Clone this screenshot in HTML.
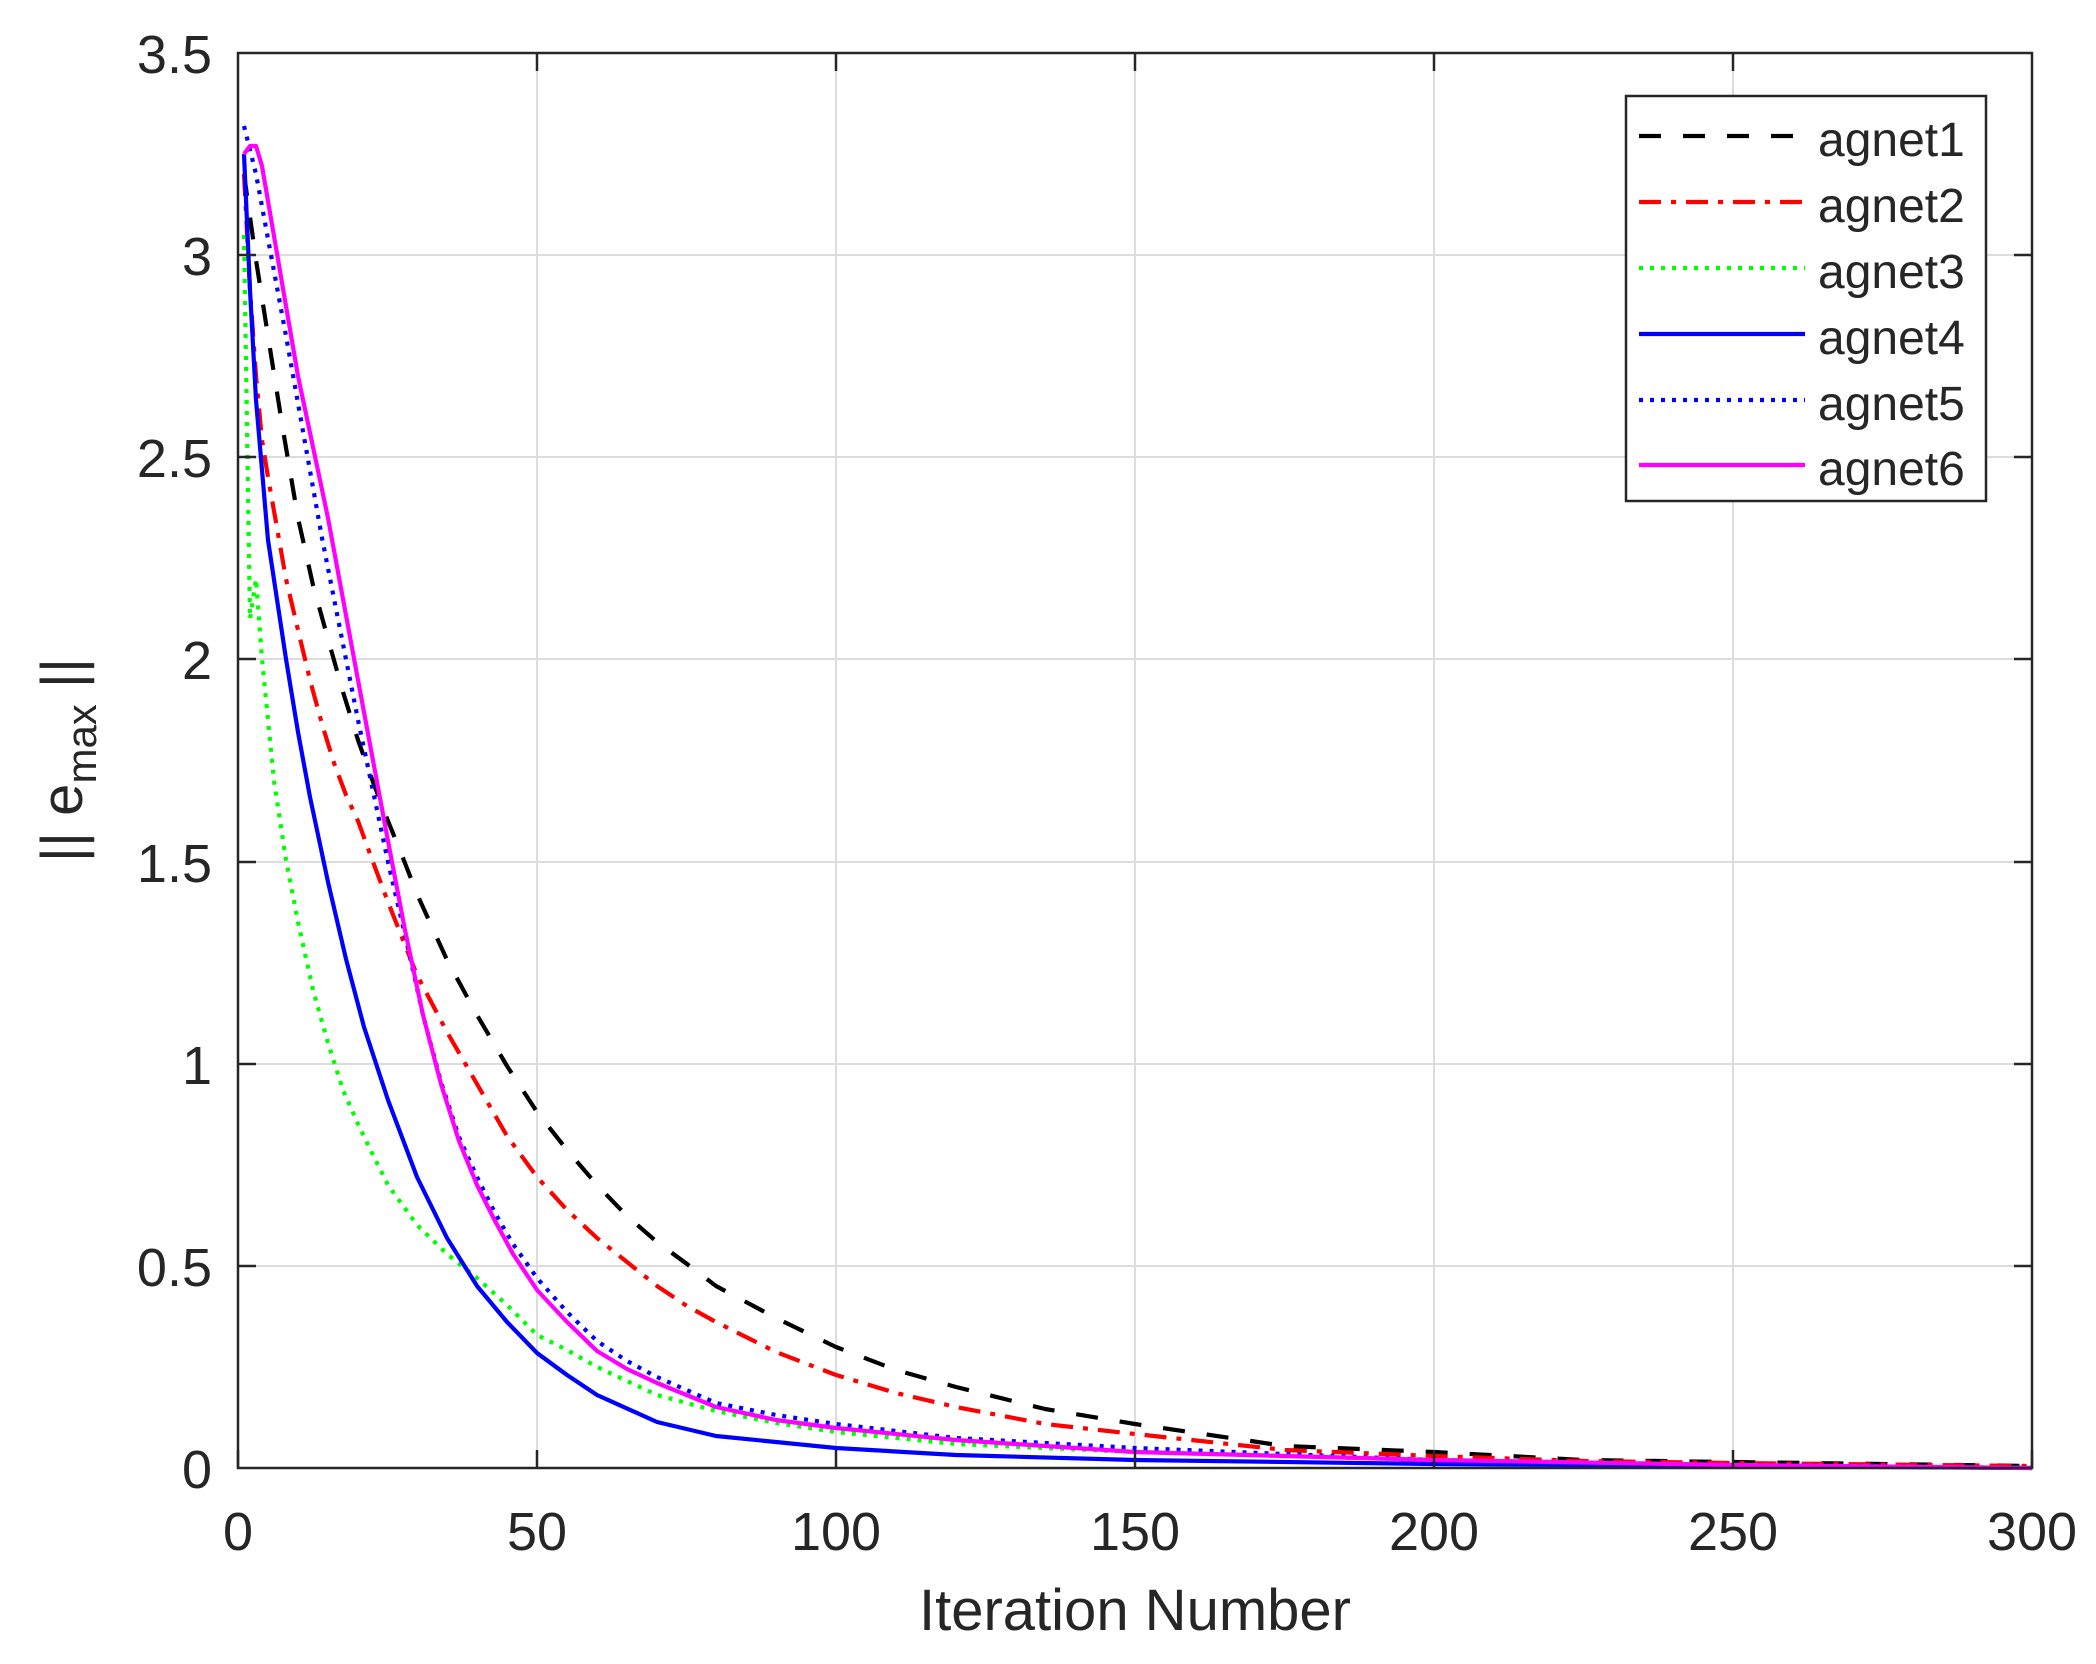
<!DOCTYPE html>
<html><head><meta charset="utf-8"><style>
html,body{margin:0;padding:0;background:#fff}
svg{display:block}
text{font-family:"Liberation Sans",Arial,sans-serif;fill:#262626}
</style></head><body>
<svg width="2096" height="1664" xmlns="http://www.w3.org/2000/svg">
<rect width="2096" height="1664" fill="#fff"/>
<g stroke="#dcdcdc" stroke-width="2">
<line x1="537" y1="53" x2="537" y2="1468"/><line x1="836" y1="53" x2="836" y2="1468"/><line x1="1135" y1="53" x2="1135" y2="1468"/><line x1="1434" y1="53" x2="1434" y2="1468"/><line x1="1733" y1="53" x2="1733" y2="1468"/>
<line x1="238" y1="1266" x2="2032" y2="1266"/><line x1="238" y1="1064" x2="2032" y2="1064"/><line x1="238" y1="862" x2="2032" y2="862"/><line x1="238" y1="659" x2="2032" y2="659"/><line x1="238" y1="457" x2="2032" y2="457"/><line x1="238" y1="255" x2="2032" y2="255"/>
</g>
<g fill="none" stroke-width="4.2" stroke-linejoin="round">
<polyline stroke="#000" stroke-dasharray="22,22" points="244,174 256,260 268,336 283,430 298,518 313,585 328,639 343,692 358,740 373,782 388,821 403,858 417,894 447,960 477,1015 507,1066 537,1112 567,1150 597,1185 627,1216 657,1242 687,1264 716,1286 776,1318 836,1347 896,1370 956,1387 1045,1409 1135,1424 1285,1446 1434,1452 1583,1460 1733,1462 2032,1466"/>
<polyline stroke="#f00" stroke-dasharray="22,10,5,10" points="244,174 250,290 256,376 262,440 268,477 286,579 298,630 310,680 322,724 334,763 346,795 358,821 373,862 388,902 403,940 417,975 447,1032 477,1084 507,1136 537,1177 567,1210 597,1238 627,1262 657,1286 687,1306 716,1322 776,1352 836,1375 896,1393 956,1407 1045,1424 1135,1434 1285,1450 1434,1456 1583,1461 1733,1463 2032,1466"/>
<polyline stroke="#0f0" stroke-dasharray="4,7" points="244,235 250,619 256,579 262,659 274,781 286,860 298,922 313,990 328,1043 343,1090 358,1124 373,1155 388,1185 417,1225 447,1254 477,1278 507,1305 537,1335 567,1350 597,1367 627,1381 657,1395 716,1411 776,1423 836,1432 956,1444 1135,1452 1434,1460 1733,1465 2032,1468"/>
<polyline stroke="#00f" points="244,154 250,290 256,400 268,540 286,659 298,732 310,797 328,882 346,959 364,1027 388,1100 417,1177 447,1238 477,1286 507,1322 537,1353 567,1375 597,1395 657,1422 716,1436 776,1442 836,1448 956,1455 1135,1460 1434,1464 1733,1466 2032,1468"/>
<polyline stroke="#00f" stroke-dasharray="4,7" points="244,126 256,174 286,336 322,538 358,720 388,862 405,935 423,1015 441,1082 459,1137 477,1177 495,1213 513,1244 537,1278 567,1312 597,1341 627,1361 657,1377 716,1403 776,1415 836,1424 956,1438 1135,1448 1434,1460 1733,1465 2032,1468"/>
<polyline stroke="#f0f" points="244,154 250,146 256,146 262,166 298,376 328,518 358,680 388,841 405,930 423,1015 441,1084 459,1141 477,1185 495,1221 513,1254 537,1290 567,1322 597,1351 627,1369 657,1383 716,1407 776,1420 836,1428 956,1440 1135,1452 1434,1460 1733,1465 2032,1468"/>
</g>
<rect x="238" y="53" width="1794" height="1415" fill="none" stroke="#262626" stroke-width="2.5"/>
<g stroke="#262626" stroke-width="2.5">
<line x1="238" y1="1468" x2="238" y2="1450"/><line x1="537" y1="1468" x2="537" y2="1450"/><line x1="836" y1="1468" x2="836" y2="1450"/><line x1="1135" y1="1468" x2="1135" y2="1450"/><line x1="1434" y1="1468" x2="1434" y2="1450"/><line x1="1733" y1="1468" x2="1733" y2="1450"/><line x1="2032" y1="1468" x2="2032" y2="1450"/>
<line x1="537" y1="53" x2="537" y2="71"/><line x1="836" y1="53" x2="836" y2="71"/><line x1="1135" y1="53" x2="1135" y2="71"/><line x1="1434" y1="53" x2="1434" y2="71"/><line x1="1733" y1="53" x2="1733" y2="71"/>
<line x1="238" y1="1266" x2="256" y2="1266"/><line x1="238" y1="1064" x2="256" y2="1064"/><line x1="238" y1="862" x2="256" y2="862"/><line x1="238" y1="659" x2="256" y2="659"/><line x1="238" y1="457" x2="256" y2="457"/><line x1="238" y1="255" x2="256" y2="255"/>
<line x1="2032" y1="1266" x2="2014" y2="1266"/><line x1="2032" y1="1064" x2="2014" y2="1064"/><line x1="2032" y1="862" x2="2014" y2="862"/><line x1="2032" y1="659" x2="2014" y2="659"/><line x1="2032" y1="457" x2="2014" y2="457"/><line x1="2032" y1="255" x2="2014" y2="255"/>
</g>
<g font-size="54" text-anchor="middle">
<text x="238" y="1550">0</text><text x="537" y="1550">50</text><text x="836" y="1550">100</text><text x="1135" y="1550">150</text><text x="1434" y="1550">200</text><text x="1733" y="1550">250</text><text x="2032" y="1550">300</text>
</g>
<g font-size="54" text-anchor="end">
<text x="212" y="1488">0</text><text x="212" y="1286">0.5</text><text x="212" y="1084">1</text><text x="212" y="882">1.5</text><text x="212" y="679">2</text><text x="212" y="477">2.5</text><text x="212" y="275">3</text><text x="212" y="73">3.5</text>
</g>
<text x="1135" y="1630" font-size="58" text-anchor="middle">Iteration Number</text>
<g transform="translate(82,760) rotate(-90)">
<text x="0" y="0" font-size="58" text-anchor="middle">|| e<tspan font-size="42" dy="14">max</tspan><tspan dy="-14"> ||</tspan></text>
</g>
<rect x="1626" y="96" width="360" height="405" fill="#fff" stroke="#262626" stroke-width="2.5"/>
<g stroke-width="4.2">
<line x1="1639" y1="136" x2="1805" y2="136" stroke="#000" stroke-dasharray="22,22"/>
<line x1="1639" y1="202" x2="1805" y2="202" stroke="#f00" stroke-dasharray="22,10,5,10"/>
<line x1="1639" y1="268" x2="1805" y2="268" stroke="#0f0" stroke-dasharray="4,7"/>
<line x1="1639" y1="334" x2="1805" y2="334" stroke="#00f"/>
<line x1="1639" y1="400" x2="1805" y2="400" stroke="#00f" stroke-dasharray="4,7"/>
<line x1="1639" y1="465" x2="1805" y2="465" stroke="#f0f"/>
</g>
<g font-size="48">
<text x="1818" y="156">agnet1</text>
<text x="1818" y="222">agnet2</text>
<text x="1818" y="288">agnet3</text>
<text x="1818" y="354">agnet4</text>
<text x="1818" y="420">agnet5</text>
<text x="1818" y="485">agnet6</text>
</g>
</svg>
</body></html>
